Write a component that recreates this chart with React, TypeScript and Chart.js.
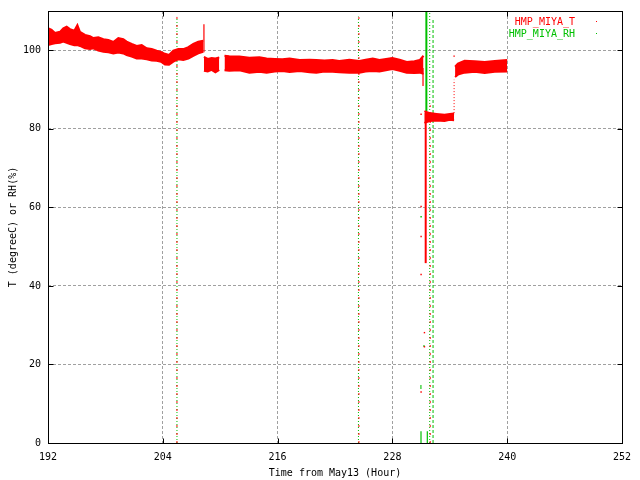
import React, { useEffect, useRef } from "react";
import { Chart, registerables } from "chart.js";

Chart.register(...registerables);

// ---------- axes ----------
const X_MIN = 192;
const X_MAX = 252;
const Y_MIN = 0;
const Y_MAX = 110;
const X_TICKS = [192, 204, 216, 228, 240, 252];
const Y_TICKS = [0, 20, 40, 60, 80, 100];
const X_TITLE = "Time from May13 (Hour)";
const Y_TITLE = "T (degreeC) or RH(%)";
const SERIES_NAMES = ["HMP_MIYA_T", "HMP_MIYA_RH"];

// ---------- HMP_MIYA_T : noisy band (upper / lower envelope) ----------
const A_HOURS = [192.0, 192.38, 192.73, 193.25, 193.6, 193.95, 194.3, 194.75, 195.07, 195.34, 195.87, 196.39, 196.74, 197.26, 197.79, 198.31, 198.83, 199.35, 199.87, 200.22, 200.75, 201.27, 201.79, 202.32, 202.84, 203.36, 203.81, 204.23, 204.65, 205.1, 205.62, 206.14, 206.67, 207.19, 207.71, 208.23];
const A_HIGH = [105.6, 105.2, 104.4, 104.7, 105.6, 106.0, 105.4, 105.0, 106.4, 104.7, 103.9, 103.6, 103.1, 103.3, 102.8, 102.6, 102.1, 103.1, 102.8, 102.2, 101.6, 101.1, 101.3, 100.5, 100.3, 99.9, 99.6, 99.1, 98.8, 99.9, 100.3, 100.3, 100.8, 101.6, 102.2, 102.4];
const A_LOW = [101.3, 101.6, 101.8, 101.9, 102.2, 101.9, 101.6, 101.3, 101.3, 101.1, 100.5, 100.3, 100.5, 99.9, 99.6, 99.5, 99.2, 99.4, 99.2, 98.8, 98.4, 97.9, 97.9, 97.7, 97.4, 97.3, 97.1, 96.4, 96.3, 97.1, 97.7, 97.5, 97.9, 98.6, 99.2, 99.6];

const B_HOURS = [208.3, 208.7, 209.1, 209.5, 209.9];
const B_HIGH = [98.3, 97.8, 98.0, 97.9, 98.2];
const B_LOW = [94.8, 94.6, 95.0, 94.4, 95.0];

const C_HOURS = [210.45, 210.95, 212.0, 213.05, 214.1, 214.85, 215.7, 216.5, 217.25, 218.3, 219.35, 220.05, 220.9, 221.75, 222.45, 223.5, 224.55, 225.2, 225.95, 226.65, 228.0, 228.75, 229.5, 230.3, 230.85, 231.25];
const C_HIGH = [98.6, 98.5, 98.4, 98.1, 98.2, 97.9, 97.8, 97.7, 97.9, 97.5, 97.6, 97.5, 97.4, 97.5, 97.3, 97.6, 97.3, 97.6, 97.9, 97.5, 98.0, 97.6, 97.0, 97.2, 97.5, 98.6];
const C_LOW = [94.9, 94.8, 94.9, 94.3, 94.5, 94.3, 94.6, 94.7, 94.5, 94.7, 94.4, 94.3, 94.6, 94.5, 94.4, 94.3, 94.3, 94.6, 94.7, 94.6, 95.2, 94.8, 94.3, 94.2, 94.3, 94.0];

const D_HOURS = [231.35, 231.9, 232.6, 233.45, 234.0, 234.45];
const D_HIGH = [84.5, 84.0, 83.8, 83.6, 83.8, 83.9];
const D_LOW = [81.5, 82.0, 82.1, 82.0, 82.3, 82.2];

const E_HOURS = [234.55, 234.85, 235.55, 236.6, 237.65, 238.7, 240.0];
const E_HIGH = [95.8, 96.6, 97.3, 97.2, 97.0, 97.3, 97.5];
const E_LOW = [93.2, 93.8, 94.3, 94.5, 94.2, 94.5, 94.6];

// ---------- vertical excursions (hour, from value, to value) ----------
const T_VLINE_HOURS = [208.3, 205.48, 224.5, 231.2, 231.48, 231.95, 234.45];
const T_VLINE_FROM = [99.5, 0, 0, 90.9, 45.8, 0, 84];
const T_VLINE_TO = [106.6, 108.6, 108.6, 95.5, 84, 86, 92.5];
const T_VLINE_KIND = ["solid", "sparse", "sparse", "solid", "thick", "sparse", "dotted"];

const RH_VLINE_HOURS = [205.48, 224.45, 231.55, 231.9, 232.25, 230.99, 231.65];
const RH_VLINE_FROM = [0, 0, 84.5, 0, 0, 0, 0];
const RH_VLINE_TO = [108.5, 108.6, 110, 110, 108, 3, 3];
const RH_VLINE_KIND = ["dotted", "dotted", "thick", "dotted", "dashed", "solid", "solid"];

// ---------- isolated points ----------
const T_DOT_HOURS = [231.0, 231.0, 231.0, 231.0, 231.0, 231.35, 231.35, 234.45];
const T_DOT_VALUES = [83.7, 60.2, 52.6, 42.9, 13.0, 28.1, 24.5, 98.5];
const RH_DOT_HOURS = [231.0, 230.98, 230.98, 231.3];
const RH_DOT_VALUES = [57.6, 14.5, 14.0, 24.7];

// ---------- styles ----------
const RED = "#ff0000";
const GREEN = "#00c000";
const GRID = "#a0a0a0";
const FONT = "'DejaVu Sans Mono', monospace";
const LINE_KIND: Record<string, { width: number; dash: number[] }> = {
  solid: { width: 1.2, dash: [] },
  thick: { width: 2, dash: [] },
  dotted: { width: 1, dash: [1, 2] },
  sparse: { width: 1, dash: [2, 6] },
  dashed: { width: 1, dash: [3, 2] },
};

function pts(h: number[], v: number[]) {
  return h.map((x, i) => ({ x, y: v[i] }));
}

const framePlugin = {
  id: "gnuFrame",
  afterDatasetsDraw(chart: any) {
    const { ctx, chartArea } = chart;
    const { left, right, top, bottom } = chartArea;
    const xs = chart.scales.x;
    const ys = chart.scales.y;
    ctx.save();
    ctx.strokeStyle = "#000";
    ctx.lineWidth = 1;
    ctx.setLineDash([]);
    ctx.strokeRect(left + 0.5, top + 0.5, right - left, bottom - top);
    const TL = 5;
    ctx.beginPath();
    X_TICKS.forEach((v) => {
      const px = Math.round(xs.getPixelForValue(v)) + 0.5;
      ctx.moveTo(px, bottom + 0.5);
      ctx.lineTo(px, bottom + 0.5 - TL);
      ctx.moveTo(px, top + 0.5);
      ctx.lineTo(px, top + 0.5 + TL);
    });
    Y_TICKS.forEach((v) => {
      const py = Math.round(ys.getPixelForValue(v)) + 0.5;
      ctx.moveTo(left + 0.5, py);
      ctx.lineTo(left + 0.5 + TL, py);
      ctx.moveTo(right + 0.5, py);
      ctx.lineTo(right + 0.5 - TL, py);
    });
    ctx.stroke();

    // gnuplot-style key
    ctx.font = `10px ${FONT}`;
    ctx.textAlign = "right";
    ctx.textBaseline = "middle";
    const colors = [RED, GREEN];
    SERIES_NAMES.forEach((name, i) => {
      const y = 22 + i * 12;
      ctx.fillStyle = colors[i];
      ctx.fillText(name, 575, y);
      ctx.fillRect(596, y - 1, 1, 1);
    });
    ctx.restore();
  },
};

export default function App() {
  const ref = useRef<HTMLCanvasElement>(null);

  useEffect(() => {
    if (!ref.current) return;
    const datasets: any[] = [];

    const segments: [number[], number[], number[]][] = [
      [A_HOURS, A_HIGH, A_LOW],
      [B_HOURS, B_HIGH, B_LOW],
      [C_HOURS, C_HIGH, C_LOW],
      [D_HOURS, D_HIGH, D_LOW],
      [E_HOURS, E_HIGH, E_LOW],
    ];
    segments.forEach(([h, hi, lo]) => {
      datasets.push({
        data: pts(h, hi),
        borderColor: RED,
        borderWidth: 2,
        pointRadius: 0,
        fill: false,
        tension: 0,
      });
      datasets.push({
        data: pts(h, lo),
        borderColor: RED,
        borderWidth: 2,
        pointRadius: 0,
        backgroundColor: RED,
        fill: "-1",
        tension: 0,
      });
    });

    const addV = (hours: number[], from: number[], to: number[], kinds: string[], color: string) => {
      hours.forEach((h, i) => {
        const k = LINE_KIND[kinds[i]];
        datasets.push({
          data: [
            { x: h, y: from[i] },
            { x: h, y: to[i] },
          ],
          borderColor: color,
          backgroundColor: color,
          borderWidth: k.width,
          borderDash: k.dash,
          pointRadius: 0,
          fill: false,
        });
      });
    };
    const addDots = (hours: number[], vals: number[], color: string) => {
      datasets.push({
        data: pts(hours, vals),
        showLine: false,
        pointStyle: "rect",
        pointRadius: 1,
        pointBorderWidth: 0,
        pointBackgroundColor: color,
        borderColor: color,
        fill: false,
      });
    };

    addV(T_VLINE_HOURS, T_VLINE_FROM, T_VLINE_TO, T_VLINE_KIND, RED);
    addDots(T_DOT_HOURS, T_DOT_VALUES, RED);
    addV(RH_VLINE_HOURS, RH_VLINE_FROM, RH_VLINE_TO, RH_VLINE_KIND, GREEN);
    addDots(RH_DOT_HOURS, RH_DOT_VALUES, GREEN);

    const tickFont = { family: FONT, size: 10 };

    const chart = new Chart(ref.current, {
      type: "line",
      data: { datasets },
      options: {
        animation: false,
        responsive: false,
        events: [],
        layout: { padding: { left: 0, top: 11, right: 18, bottom: 0 } },
        plugins: {
          legend: { display: false },
          tooltip: { enabled: false },
        },
        scales: {
          x: {
            type: "linear",
            min: X_MIN,
            max: X_MAX,
            afterBuildTicks: (s: any) => {
              s.ticks = X_TICKS.map((value) => ({ value }));
            },
            afterFit: (s: any) => {
              s.height = 37;
              s.paddingLeft = 0;
              s.paddingRight = 0;
            },
            grid: { color: GRID, lineWidth: 1, drawTicks: false },
            border: { display: false, dash: [3, 2] },
            ticks: {
              padding: 8,
              color: "#000",
              font: tickFont,
              maxRotation: 0,
              autoSkip: false,
              callback: (v: any) => String(v),
            },
            title: {
              display: true,
              text: X_TITLE,
              color: "#000",
              font: tickFont,
              padding: { top: 0, bottom: 1 },
            },
          },
          y: {
            type: "linear",
            min: Y_MIN,
            max: Y_MAX,
            afterBuildTicks: (s: any) => {
              s.ticks = Y_TICKS.map((value) => ({ value }));
            },
            afterFit: (s: any) => {
              s.width = 48;
              s.paddingTop = 0;
              s.paddingBottom = 0;
            },
            grid: { color: GRID, lineWidth: 1, drawTicks: false },
            border: { display: false, dash: [3, 2] },
            ticks: {
              padding: 7,
              color: "#000",
              font: tickFont,
              autoSkip: false,
              callback: (v: any) => String(v),
            },
            title: {
              display: true,
              text: Y_TITLE,
              color: "#000",
              font: tickFont,
              padding: { top: 7, bottom: 0 },
            },
          },
        },
      },
      plugins: [framePlugin],
    } as any);

    return () => chart.destroy();
  }, []);

  return (
    <div style={{ position: "fixed", left: 0, top: 0, width: 640, height: 480, background: "#fff" }}>
      <canvas ref={ref} width={640} height={480} />
    </div>
  );
}
